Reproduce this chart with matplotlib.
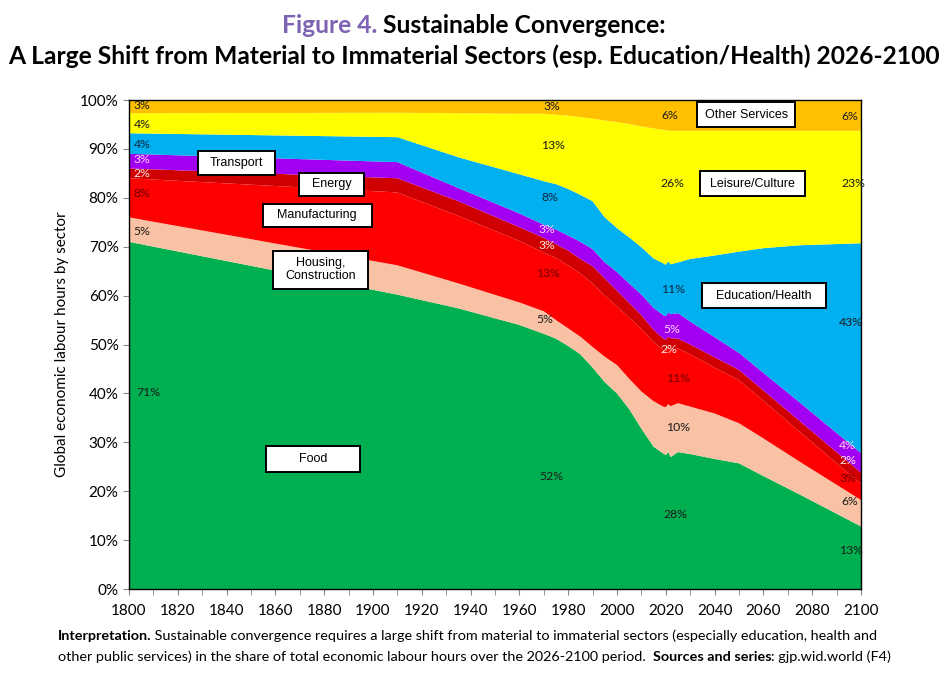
import numpy as np
import matplotlib
matplotlib.use("Agg")
import matplotlib.pyplot as plt
from matplotlib.patches import Rectangle
from matplotlib.ticker import MultipleLocator, FuncFormatter

# years
years = [1800, 1910, 1935, 1960, 1970, 1975, 1980, 1985, 1990, 1995, 2000,
         2005, 2010, 2015, 2019, 2020, 2021, 2022, 2025, 2030, 2040, 2050,
         2060, 2075, 2100]

# share of global labour hours by sector (%)
food = [71.0, 60.2, 57.4, 54.0, 52.2, 51.2, 49.7, 48.0, 45.3, 42.3, 40.0,
        36.8, 32.8, 29.1, 27.7, 27.4, 28.0, 27.0, 28.0, 27.6, 26.6, 25.7,
        23.1, 19.3, 12.8]
housing = [5.0, 6.0, 5.1, 4.6, 4.6, 3.8, 3.6, 3.6, 4.2, 5.2, 5.8,
           6.2, 7.6, 9.3, 9.6, 9.8, 9.8, 10.4, 10.0, 9.7, 9.3, 8.2,
           7.7, 6.7, 5.4]
manufacturing = [8.0, 14.9, 13.8, 12.6, 12.0, 12.7, 12.9, 12.9, 13.0, 12.5, 12.0,
                 12.5, 12.8, 12.1, 11.5, 11.4, 11.5, 11.5, 11.2, 10.7, 9.4, 8.8,
                 7.7, 6.1, 3.3]
energy = [2.0, 2.9, 3.0, 2.8, 3.0, 2.8, 3.0, 3.0, 3.5, 3.5, 3.2,
          3.0, 2.8, 2.5, 2.4, 2.4, 2.3, 2.4, 2.0, 2.0, 2.1, 2.1,
          2.1, 2.2, 2.3]
transport = [3.0, 3.3, 2.7, 2.8, 2.7, 3.0, 3.1, 3.5, 3.5, 3.3, 3.8,
             4.0, 4.2, 4.5, 4.8, 4.8, 4.9, 4.9, 5.2, 4.7, 4.1, 3.5,
             3.6, 3.8, 4.0]
education = [4.2, 5.1, 6.3, 8.0, 8.9, 9.3, 9.5, 9.6, 9.8, 9.2, 9.0,
             9.4, 9.7, 10.1, 10.6, 10.5, 10.5, 10.2, 10.4, 12.8, 16.7, 20.7,
             25.5, 32.2, 42.9]
leisure = [4.1, 5.0, 9.0, 12.4, 13.8, 14.2, 15.0, 15.9, 16.9, 19.8, 21.7,
           23.2, 24.7, 26.6, 27.3, 27.5, 26.8, 27.3, 26.9, 26.2, 25.5, 24.7,
           24.0, 23.4, 23.0]
other = [2.7, 2.6, 2.7, 2.8, 2.8, 3.0, 3.2, 3.5, 3.8, 4.2, 4.5,
         4.9, 5.4, 5.8, 6.1, 6.2, 6.2, 6.3, 6.3, 6.3, 6.3, 6.3,
         6.3, 6.3, 6.3]

colors = ["#00B050", "#FAC2A4", "#FF0000", "#D00000",
          "#A100F2", "#00B0F0", "#FFFF00", "#FFC000"]

# value labels printed inside the bands: (year, pct, text, colour)
dark = "#1a1a1a"
navy = "#0d2640"
pink = "#FFD6FF"
whitish = "#FFE6E6"
maroon = "#6e0000"
value_labels = [
    (1802, 98.8, "3%", dark), (1802, 95.0, "4%", dark), (1802, 91.0, "4%", navy),
    (1802, 87.8, "3%", pink), (1802, 85.0, "2%", whitish), (1802, 80.8, "8%", maroon),
    (1802, 73.2, "5%", dark), (1803, 40.2, "71%", dark),
    (1970, 98.7, "3%", dark), (1969, 90.6, "13%", dark), (1969, 80.0, "8%", navy),
    (1968, 73.6, "3%", pink), (1968, 70.2, "3%", whitish), (1967, 64.6, "13%", maroon),
    (1967, 55.2, "5%", dark), (1968, 23.1, "52%", dark),
    (2018, 96.9, "6%", dark), (2018, 83.0, "26%", dark), (2018, 61.3, "11%", navy),
    (2019, 53.0, "5%", pink), (2018, 48.9, "2%", whitish), (2020, 43.1, "11%", maroon),
    (2020, 33.1, "10%", dark), (2019, 15.3, "28%", dark),
    (2092, 96.7, "6%", dark), (2092, 83.0, "23%", dark), (2091, 54.6, "43%", dark),
    (2091, 29.4, "4%", pink), (2091, 26.2, "2%", whitish), (2091, 22.7, "3%", maroon),
    (2092, 17.8, "6%", dark), (2091, 7.8, "13%", dark),
]

# boxed sector names: (centre year, centre pct, box width in years, box height in pct, text)
box_labels = [
    (2052.9, 97.0, 40.2, 5.1, "Other Services"),
    (2055.6, 82.9, 43.0, 5.1, "Leisure/Culture"),
    (2060.2, 60.0, 50.8, 5.1, "Education/Health"),
    (1844.1, 87.2, 31.6, 4.9, "Transport"),
    (1883.0, 82.8, 26.6, 4.7, "Energy"),
    (1877.1, 76.4, 44.7, 4.7, "Manufacturing"),
    (1878.5, 65.3, 39.3, 7.8, "Housing,\nConstruction"),
    (1875.4, 26.6, 38.5, 5.3, "Food"),
]

plt.rcParams['font.family'] = ['Lato', 'DejaVu Sans']

fig = plt.figure(figsize=(9.47, 6.74), dpi=100)
ax = fig.add_axes([0.1362, 0.1261, 0.7730, 0.7255])

ax.stackplot(years, food, housing, manufacturing, energy, transport,
             education, leisure, other, colors=colors, linewidth=0)

ax.set_xlim(1800, 2100)
ax.set_ylim(0, 100)
ax.xaxis.set_major_locator(MultipleLocator(20))
ax.xaxis.set_minor_locator(MultipleLocator(10))
ax.yaxis.set_major_locator(MultipleLocator(10))
ax.yaxis.set_major_formatter(FuncFormatter(lambda v, p: "%d%%" % v))
ax.tick_params(axis='both', which='major', labelsize=11, length=4,
               color='#888888', direction='out')
ax.tick_params(axis='x', which='minor', length=4, color='#888888')
ax.tick_params(axis='x', pad=7)
for sp in ax.spines.values():
    sp.set_linewidth(1.0)
    sp.set_color('black')
ax.set_ylabel("Global economic labour hours by sector", fontsize=11, labelpad=8)

for x, y, s, c in value_labels:
    ax.text(x, y, s, fontsize=8.8, color=c, ha='left', va='center')

for x, y, w, h, s in box_labels:
    ax.add_patch(Rectangle((x - w / 2, y - h / 2), w, h, facecolor='white',
                           edgecolor='black', lw=1.4, zorder=4))
    ax.text(x, y, s, fontsize=9, ha='center', va='center', linespacing=1.1,
            family=['Liberation Sans', 'DejaVu Sans'], zorder=5)

renderer = fig.canvas.get_renderer()


def line_of_pieces(x, y, pieces, size, center=False):
    # place several differently styled texts one after another on a line
    placed = []
    cur = x
    for s, weight, col in pieces:
        t = fig.text(cur, y, s, fontsize=size, fontweight=weight, color=col,
                     ha='left', va='baseline')
        cur += t.get_window_extent(renderer).width / fig.bbox.width
        placed.append(t)
    if center:
        shift = (cur - x) / 2
        for t in placed:
            px, py = t.get_position()
            t.set_position((px - shift, py))


line_of_pieces(0.5, 0.951, [("Figure 4. ", 'bold', '#7E62B3'),
                            ("Sustainable Convergence:", 'bold', 'black')],
               17.7, center=True)
fig.text(0.5, 0.905, "A Large Shift from Material to Immaterial Sectors "
         "(esp. Education/Health) 2026-2100", fontsize=17.7, fontweight='bold',
         ha='center', va='baseline')

line_of_pieces(0.061, 0.050, [
    ("Interpretation.", 'bold', 'black'),
    (" Sustainable convergence requires a large shift from material to immaterial "
     "sectors (especially education, health and", 'normal', 'black')], 10.4)
line_of_pieces(0.061, 0.020, [
    ("other public services) in the share of total economic labour hours over "
     "the 2026-2100 period.  ", 'normal', 'black'),
    ("Sources and series", 'bold', 'black'),
    (": gjp.wid.world (F4)", 'normal', 'black')], 10.4)

fig.savefig("out.png", dpi=100)
